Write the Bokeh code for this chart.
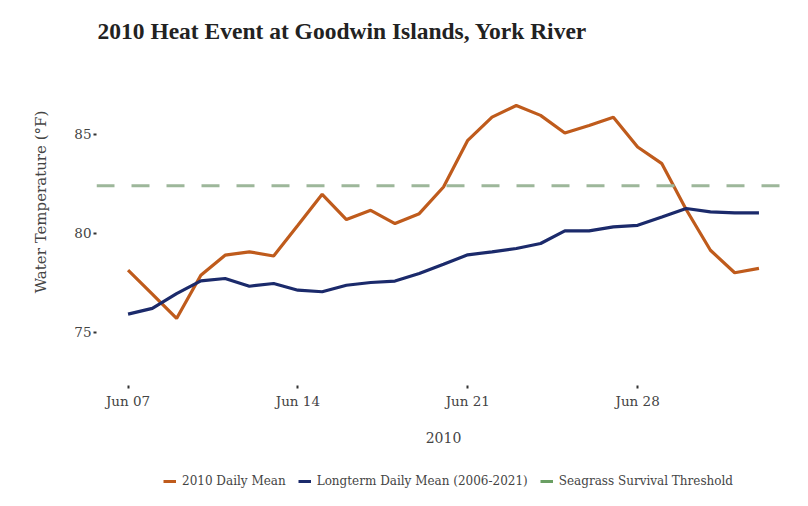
import pandas as pd
from bokeh.plotting import figure
from bokeh.layouts import column
from bokeh.models import (Range1d, FixedTicker, DatetimeTickFormatter, Span,
                          Legend, LegendItem, Label)
from bokeh.embed import file_html
from bokeh.resources import INLINE

# ---- data ----
start_date = "2010-06-07"
end_date = "2010-07-03"
dates = pd.date_range(start_date, end_date, freq="D")

temp_2010 = [78.13, 76.92, 75.69, 77.88, 78.89, 79.06, 78.85, 80.40, 81.97,
             80.69, 81.16, 80.49, 80.99, 82.34, 84.70, 85.87, 86.46, 85.96,
             85.07, 85.45, 85.87, 84.36, 83.52, 81.20, 79.14, 78.00, 78.22]
temp_longterm = [75.91, 76.20, 76.95, 77.59, 77.71, 77.32, 77.46, 77.12, 77.04,
                 77.37, 77.51, 77.58, 77.96, 78.43, 78.91, 79.06, 79.23, 79.48,
                 80.12, 80.12, 80.32, 80.40, 80.82, 81.25, 81.08, 81.03, 81.03]
threshold = 82.4

x_tick_dates = ["2010-06-07", "2010-06-14", "2010-06-21", "2010-06-28"]
y_ticks = [75, 80, 85]

title_text = "2010 Heat Event at Goodwin Islands, York River"
series_names = ["2010 Daily Mean", "Longterm Daily Mean (2006-2021)",
                "Seagrass Survival Threshold"]

# ---- styling ----
ORANGE = "#bf5b1c"
NAVY = "#1b2a6b"
GREEN = "#9db79a"
GREEN_KEY = "#6a9f63"
FONT = "DejaVu Serif"
TITLE_FONT = "Liberation Serif"
TXT = "#444444"

t0 = pd.Timestamp(dates[0]).value / 1e6
t1 = pd.Timestamp(dates[-1]).value / 1e6
span_ms = t1 - t0
x_range = Range1d(t0 - 0.05 * span_ms, t1 + 0.05 * span_ms)

FRAME_TOP = 18
FRAME_BOTTOM = 385
LEFT = 96
RIGHT = 10
p = figure(width=800, height=460, x_axis_type="datetime",
           x_range=x_range, y_range=Range1d(72.3, 90.86),
           output_backend="svg", toolbar_location=None,
           min_border_left=LEFT, min_border_right=RIGHT, min_border_top=FRAME_TOP,
           min_border_bottom=460 - FRAME_BOTTOM)

p.outline_line_color = None
p.xgrid.grid_line_color = None
p.ygrid.grid_line_color = None
p.background_fill_color = "white"
p.border_fill_color = "white"

r1 = p.line(dates, temp_2010, line_color=ORANGE, line_width=3.2)
r2 = p.line(dates, temp_longterm, line_color=NAVY, line_width=3.2)

span = Span(location=threshold, dimension="width", line_color=GREEN,
            line_width=3, line_dash="18 17")
p.add_layout(span)

# title drawn inside the top of the plot area (as in the reference)
title = Label(x=1, y=(FRAME_BOTTOM - FRAME_TOP) - 12, x_units="screen",
              y_units="screen", text=title_text, text_font=TITLE_FONT,
              text_font_size="23.5px", text_font_style="bold",
              text_color="#222222", text_baseline="middle", text_align="left")
p.add_layout(title)

# axes
p.xaxis.ticker = FixedTicker(ticks=[pd.Timestamp(d).value / 1e6 for d in x_tick_dates])
p.xaxis.formatter = DatetimeTickFormatter(days="%b %d", months="%b %d")
p.yaxis.ticker = FixedTicker(ticks=y_ticks)
for ax in (p.xaxis[0], p.yaxis[0]):
    ax.axis_line_color = None
    ax.major_tick_line_color = "#333333"
    ax.major_tick_line_width = 2
    ax.major_tick_in = 0
    ax.major_tick_out = 3
    ax.minor_tick_line_color = None
    ax.major_label_text_font = FONT
    ax.major_label_text_font_size = "13.5px"
    ax.major_label_text_color = TXT
    ax.axis_label_text_font = FONT
    ax.axis_label_text_font_style = "normal"
    ax.axis_label_text_color = TXT
p.xaxis.major_label_standoff = 4
p.yaxis.major_label_standoff = 2
p.xaxis.axis_label = "2010"
p.xaxis.axis_label_text_font_size = "14px"
p.xaxis.axis_label_standoff = 20
p.yaxis.axis_label = "Water Temperature (°F)"
p.yaxis.axis_label_text_font_size = "15px"
p.yaxis.axis_label_standoff = 21

# ---- legend strip below the chart (same side borders so frames align) ----
lg = figure(width=800, height=38, x_axis_type=None, y_axis_type=None,
            x_range=x_range, y_range=Range1d(72.3, 90.86),
            output_backend="svg", toolbar_location=None,
            min_border_left=LEFT, min_border_right=RIGHT, min_border_top=0,
            min_border_bottom=0)
lg.outline_line_color = None
lg.xgrid.grid_line_color = None
lg.ygrid.grid_line_color = None
# single-point renderers: draw nothing, only feed the legend swatches
k1 = lg.line(x=[dates[0]], y=[temp_2010[0]], line_color=ORANGE, line_width=3)
k2 = lg.line(x=[dates[0]], y=[temp_longterm[0]], line_color=NAVY, line_width=3)
k3 = lg.line(x=[dates[0]], y=[threshold], line_color=GREEN_KEY, line_width=3)

legend = Legend(items=[LegendItem(label=series_names[0], renderers=[k1]),
                       LegendItem(label=series_names[1], renderers=[k2]),
                       LegendItem(label=series_names[2], renderers=[k3])],
                orientation="horizontal", location=(67, 10))
legend.label_text_font = FONT
legend.label_text_font_size = "12px"
legend.label_text_color = TXT
legend.glyph_width = 13
legend.glyph_height = 12
legend.label_standoff = 6
legend.spacing = 12
legend.border_line_color = None
legend.background_fill_alpha = 0
legend.padding = 2
legend.margin = 0
lg.add_layout(legend, "center")

layout = column(p, lg, spacing=0)
open("out.html", "w").write(file_html(layout, INLINE))
